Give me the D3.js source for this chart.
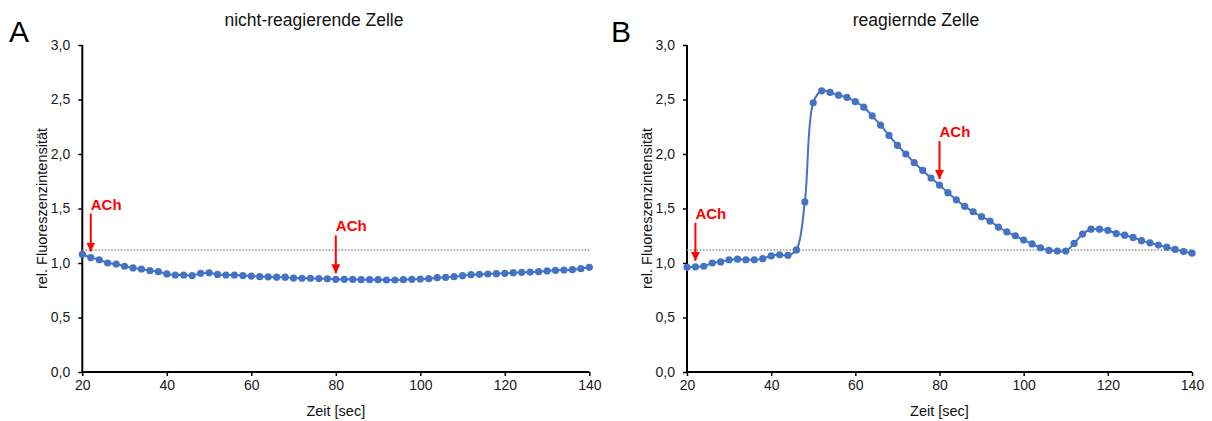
<!DOCTYPE html>
<html><head><meta charset="utf-8">
<script src="https://cdn.jsdelivr.net/npm/d3@7"></script>
<style>
body{margin:0;background:#fff;}
text{font-family:"Liberation Sans", Arial, Helvetica, sans-serif;}
</style></head>
<body><svg id="c" width="1212" height="421"></svg>
<script>
// ---- data ----
const times = [20,22,24,26,28,30,32,34,36,38,40,42,44,46,48,50,52,54,56,58,60,62,64,66,68,70,72,74,76,78,80,
  82,84,86,88,90,92,94,96,98,100,102,104,106,108,110,112,114,116,118,120,122,124,126,128,130,132,134,136,138,140];
const valuesA = [1.08,1.05,1.03,1.00,0.99,0.97,0.955,0.945,0.93,0.92,0.90,0.89,0.89,0.885,0.905,0.91,0.895,0.89,0.89,0.885,
  0.88,0.875,0.873,0.87,0.87,0.862,0.86,0.86,0.857,0.855,0.85,
  0.85,0.85,0.847,0.847,0.847,0.844,0.844,0.847,0.85,0.853,0.856,0.865,0.869,0.875,0.884,0.893,0.896,0.899,0.902,0.905,
  0.911,0.914,0.917,0.92,0.927,0.933,0.936,0.939,0.948,0.96];
const valuesB = [0.96,0.965,0.97,1.00,1.01,1.03,1.035,1.03,1.03,1.04,1.065,1.075,1.07,1.12,
  1.56,2.47,2.58,2.565,2.54,2.52,2.48,2.43,2.35,2.265,2.17,2.08,2.00,1.92,1.85,1.78,1.715,1.645,1.58,1.52,1.47,1.425,1.385,1.33,1.285,1.25,1.21,
  1.175,1.14,1.115,1.11,1.11,1.18,1.265,1.31,1.31,1.30,1.27,1.255,1.235,1.205,1.185,1.165,1.145,1.125,1.105,1.09];
const baselineValue = 1.12;
const arrowTimesA = [22, 80];
const arrowTimesB = [22, 80];
const arrowLabel = "ACh";
const xTicks = [20,40,60,80,100,120,140];
const yTicks = [0,0.5,1.0,1.5,2.0,2.5,3.0];
const titles = ["nicht-reagierende Zelle", "reagiernde Zelle"];
const panelLetters = ["A", "B"];
const xLabel = "Zeit [sec]";
const yLabel = "rel. Fluoreszenzintensität";

// ---- drawing ----
const svg = d3.select("#c");
const fmt = d => d3.format(".1f")(d).replace(".", ",");
const blue = "#4472C4";

const panels = [
  {x0: 82.3, x1: 589.3, values: valuesA, arrows: arrowTimesA, title: titles[0], titleX: 314, letter: panelLetters[0], letterX: 9},
  {x0: 687, x1: 1192, values: valuesB, arrows: arrowTimesB, title: titles[1], titleX: 916, letter: panelLetters[1], letterX: 611}
];

svg.append("defs").append("marker")
  .attr("id","ah").attr("viewBox","0 0 10 10").attr("refX",10).attr("refY",5)
  .attr("markerWidth",4.5).attr("markerHeight",4.5).attr("markerUnits","strokeWidth").attr("orient","auto")
  .append("path").attr("d","M0,0 L10,5 L0,10 z").attr("fill","#FF0000");

panels.forEach(p => {
  const x = d3.scaleLinear().domain([20,140]).range([p.x0, p.x1]);
  const y = d3.scaleLinear().domain([0,3]).range([372, 45]);
  const g = svg.append("g");

  // axes
  const xa = g.append("g").attr("transform",`translate(0,${y(0)})`)
    .call(d3.axisBottom(x).tickValues(xTicks).tickSize(4).tickPadding(4).tickFormat(d3.format("d")));
  const ya = g.append("g").attr("transform",`translate(${x(20)},0)`)
    .call(d3.axisLeft(y).tickValues(yTicks).tickSize(4).tickPadding(8).tickFormat(fmt));
  [xa, ya].forEach(a => {
    a.select(".domain").attr("stroke","#000").attr("stroke-width",2);
    a.selectAll(".tick line").attr("stroke","#000").attr("stroke-width",1.5);
    a.selectAll(".tick text").attr("font-size",14).attr("fill","#1a1a1a")
      .attr("font-family",'"Liberation Sans", Arial, sans-serif');
  });
  ya.select(".domain").attr("d", `M-0,${y(3)}V${y(0)}`);
  xa.select(".domain").attr("d", `M${x(20)},0H${x(140)}`);

  // baseline dotted
  g.append("line").attr("x1",x(20)).attr("x2",x(140)).attr("y1",y(baselineValue)).attr("y2",y(baselineValue))
    .attr("stroke","#8c8c8c").attr("stroke-width",1.5).attr("stroke-dasharray","1.5,1.7");

  // line
  const data = times.map((t,i)=>({t, v:p.values[i]}));
  g.append("path").datum(data)
    .attr("d", d3.line().x(d=>x(d.t)).y(d=>y(d.v)).curve(d3.curveCatmullRom.alpha(0.5)))
    .attr("fill","none").attr("stroke",blue).attr("stroke-width",2);
  g.selectAll("circle.pt").data(data).join("circle")
    .attr("cx",d=>x(d.t)).attr("cy",d=>y(d.v)).attr("r",3.6).attr("fill",blue);

  // arrows
  p.arrows.forEach(t => {
    const v = p.values[times.indexOf(t)];
    const tip = y(v) - 6;
    const top = tip - 38;
    g.append("line").attr("x1",x(t)).attr("x2",x(t)).attr("y1",top).attr("y2",tip)
      .attr("stroke","#FF0000").attr("stroke-width",2).attr("marker-end","url(#ah)");
    g.append("text").attr("x",x(t)).attr("y",top-4).text(arrowLabel)
      .attr("fill","#FF0000").attr("font-weight","bold").attr("font-size",15);
  });

  // titles & labels
  g.append("text").attr("x",p.titleX).attr("y",26).attr("text-anchor","middle")
    .attr("font-size",17.5).attr("fill","#111").text(p.title);
  g.append("text").attr("x",p.letterX).attr("y",42).attr("font-size",30).attr("fill","#000").text(p.letter);
  g.append("text").attr("x",(p.x0+p.x1)/2).attr("y",416).attr("text-anchor","middle")
    .attr("font-size",14.5).attr("fill","#111").text(xLabel);
  g.append("text").attr("transform",`translate(${p.x0-35},${y(1.5)}) rotate(-90)`).attr("text-anchor","middle")
    .attr("font-size",14.5).attr("fill","#111").text(yLabel);
});
</script></body></html>
